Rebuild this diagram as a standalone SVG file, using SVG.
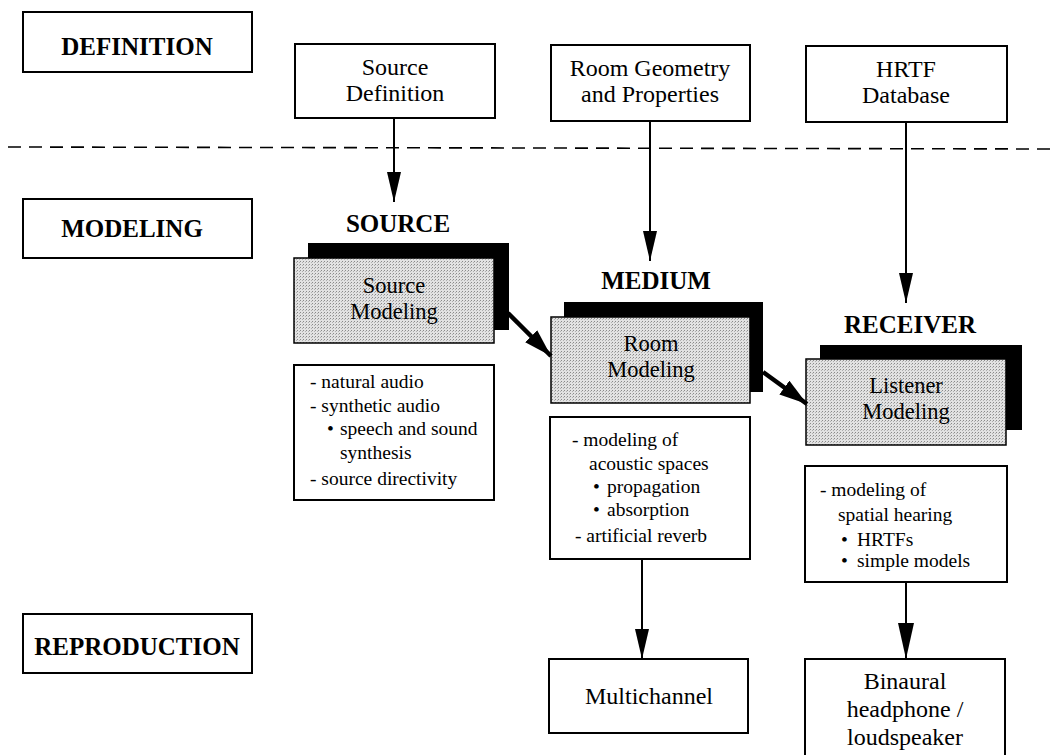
<svg xmlns="http://www.w3.org/2000/svg" width="1054" height="755" viewBox="0 0 1054 755">
<style>
.box{fill:#fff;stroke:#000;stroke-width:2}
.gbox{fill:url(#stip);stroke:#000;stroke-width:1.5}
.shadow{fill:#000}
.lbl{font-family:"Liberation Serif","Times New Roman",serif;font-size:24px;text-anchor:middle;fill:#000}
.mlbl{font-family:"Liberation Serif","Times New Roman",serif;font-size:22.5px;text-anchor:middle;fill:#000}
.hdr{font-family:"Liberation Serif","Times New Roman",serif;font-size:25px;font-weight:bold;text-anchor:middle;fill:#000}
.lst{font-family:"Liberation Serif","Times New Roman",serif;font-size:19.5px;fill:#000}
.thin{stroke:#000;stroke-width:2;fill:none}
.thick{stroke:#000;stroke-width:4.5;fill:none}
</style>
<defs>
<pattern id="stip" width="3" height="3" patternUnits="userSpaceOnUse">
<rect width="3" height="3" fill="#e2e2e2"/>
<rect x="0" y="0" width="1" height="1" fill="#8a8a8a"/>
<rect x="2" y="1" width="1" height="1" fill="#b0b0b0"/>
</pattern>
<marker id="ah" markerUnits="userSpaceOnUse" viewBox="0 0 30 14" markerWidth="30" markerHeight="14" refX="30" refY="7" orient="auto">
<path d="M0,0 L30,7 L0,14 Z" fill="#000"/>
</marker>
<marker id="ahL" markerUnits="userSpaceOnUse" viewBox="0 0 36 16" markerWidth="36" markerHeight="16" refX="36" refY="8" orient="auto">
<path d="M0,0 L36,8 L0,16 Z" fill="#000"/>
</marker>
<marker id="ahD" markerUnits="userSpaceOnUse" viewBox="0 0 28 17" markerWidth="28" markerHeight="17" refX="28" refY="8.5" orient="auto">
<path d="M0,0 L28,8.5 L0,17 Z" fill="#000"/>
</marker>
</defs>
<rect width="1054" height="755" fill="#fff"/>

<line x1="8" y1="147" x2="1054" y2="149" stroke="#000" stroke-width="1.6" stroke-dasharray="13,8"/>

<g id="definition">
<rect class="box" x="23" y="12" width="229" height="60"/>
<text class="hdr" x="137" y="55">DEFINITION</text>
</g>
<g id="modeling">
<rect class="box" x="23" y="199" width="229" height="59"/>
<text class="hdr" x="132" y="237">MODELING</text>
</g>
<g id="reproduction">
<rect class="box" x="23" y="614" width="229" height="59"/>
<text class="hdr" x="137" y="655">REPRODUCTION</text>
</g>

<g id="source-definition">
<rect class="box" x="295" y="44" width="200" height="74"/>
<text class="lbl" x="395" y="75">Source</text>
<text class="lbl" x="395" y="101">Definition</text>
</g>
<g id="room-geometry">
<rect class="box" x="551" y="45" width="199" height="76"/>
<text class="lbl" x="650" y="76">Room Geometry</text>
<text class="lbl" x="650" y="102">and Properties</text>
</g>
<g id="hrtf-database">
<rect class="box" x="806" y="46" width="201" height="76"/>
<text class="lbl" x="906" y="77">HRTF</text>
<text class="lbl" x="906" y="103">Database</text>
</g>

<g id="source-modeling">
<text class="hdr" x="398" y="232">SOURCE</text>
<rect class="shadow" x="308" y="243" width="201" height="87"/>
<rect class="gbox" x="294" y="258" width="200" height="85"/>
<text class="mlbl" x="394" y="293">Source</text>
<text class="mlbl" x="394" y="319">Modeling</text>
</g>
<g id="room-modeling">
<text class="hdr" x="656" y="289">MEDIUM</text>
<rect class="shadow" x="564" y="302" width="199" height="90"/>
<rect class="gbox" x="551" y="317" width="199" height="86"/>
<text class="mlbl" x="651" y="351">Room</text>
<text class="mlbl" x="651" y="377">Modeling</text>
</g>
<g id="listener-modeling">
<text class="hdr" x="910" y="333">RECEIVER</text>
<rect class="shadow" x="820" y="345" width="202" height="85"/>
<rect class="gbox" x="806" y="359" width="200" height="86"/>
<text class="mlbl" x="906" y="393">Listener</text>
<text class="mlbl" x="906" y="419">Modeling</text>
</g>

<g id="source-list">
<rect class="box" x="294" y="365" width="200" height="135"/>
<text class="lst" x="310" y="388">- natural audio</text>
<text class="lst" x="310" y="412">- synthetic audio</text>
<text class="lst" x="327" y="435">•<tspan x="340">speech and sound</tspan></text>
<text class="lst" x="340" y="459">synthesis</text>
<text class="lst" x="310" y="485">- source directivity</text>
</g>
<g id="medium-list">
<rect class="box" x="550" y="417" width="200" height="142"/>
<text class="lst" x="572" y="446">- modeling of</text>
<text class="lst" x="589" y="470">acoustic spaces</text>
<text class="lst" x="593" y="493">•<tspan x="607">propagation</tspan></text>
<text class="lst" x="593" y="516">•<tspan x="607">absorption</tspan></text>
<text class="lst" x="575" y="542">- artificial reverb</text>
</g>
<g id="receiver-list">
<rect class="box" x="805" y="466" width="202" height="116"/>
<text class="lst" x="820" y="496">- modeling of</text>
<text class="lst" x="838" y="521">spatial hearing</text>
<text class="lst" x="841" y="546">•<tspan x="857">HRTFs</tspan></text>
<text class="lst" x="841" y="567">•<tspan x="857">simple models</tspan></text>
</g>

<g id="multichannel">
<rect class="box" x="549" y="659" width="199" height="74"/>
<text class="lbl" x="649" y="704">Multichannel</text>
</g>
<g id="binaural">
<rect class="box" x="805" y="659" width="200" height="100"/>
<text class="lbl" x="905" y="689">Binaural</text>
<text class="lbl" x="905" y="717">headphone /</text>
<text class="lbl" x="905" y="745">loudspeaker</text>
</g>

<g id="connectors">
<line class="thin" x1="394" y1="118" x2="394" y2="202" marker-end="url(#ah)"/>
<line class="thin" x1="650" y1="121" x2="650" y2="261" marker-end="url(#ah)"/>
<line class="thin" x1="906" y1="122" x2="906" y2="303" marker-end="url(#ah)"/>
<line class="thick" x1="508" y1="313" x2="551" y2="356" marker-end="url(#ahD)"/>
<line class="thick" x1="763" y1="372" x2="807" y2="404" marker-end="url(#ahD)"/>
<line class="thin" x1="642" y1="559" x2="642" y2="659" marker-end="url(#ah)"/>
<line class="thin" x1="906" y1="582" x2="906" y2="659" marker-end="url(#ahL)"/>
</g>
</svg>
